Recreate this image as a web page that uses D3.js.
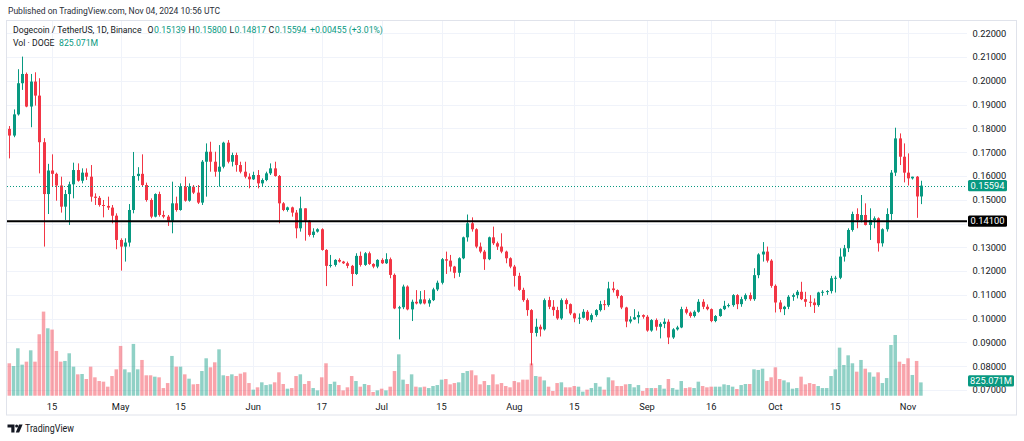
<!DOCTYPE html>
<html><head><meta charset="utf-8">
<script src="https://cdn.jsdelivr.net/npm/d3@7"></script>
<style>html,body{margin:0;padding:0;background:#fff;overflow:hidden}svg{display:block;font-family:Roboto,"Liberation Sans",sans-serif}</style>
</head><body><svg id="c" width="1024" height="441"></svg>
<script>
const startDate = "2024-04-05", endDate = "2024-11-04";
const opens = [.1798,.1770,.1859,.1990,.2029,.1892,.1997,.1938,.1742,.1524,
.1623,.1609,.1560,.1471,.1524,.1565,.1625,.1580,.1614,.1597,
.1513,.1508,.1478,.1474,.1467,.1433,.1331,.1303,.1320,.1457,
.1600,.1609,.1562,.1499,.1429,.1524,.1436,.1429,.1412,.1485,
.1457,.1555,.1496,.1555,.1530,.1488,.1660,.1702,.1660,.1618,
.1639,.1740,.1660,.1688,.1646,.1618,.1597,.1586,.1604,.1569,
.1583,.1611,.1632,.1600,.1485,.1457,.1468,.1446,.1380,.1464,
.1412,.1352,.1366,.1376,.1289,.1222,.1226,.1247,.1240,.1233,
.1222,.1188,.1264,.1226,.1275,.1230,.1219,.1247,.1233,.1250,
.1184,.1043,.1048,.1135,.1039,.1071,.1064,.1081,.1064,.1078,
.1123,.1151,.1250,.1244,.1219,.1193,.1254,.1342,.1401,.1376,
.1303,.1282,.1250,.1342,.1317,.1303,.1282,.1254,.1219,.1180,
.1121,.1078,.1036,.0940,.0966,.0955,.1078,.1050,.1036,.1001,
.1078,.1061,.1022,.1001,.1004,.1029,.0995,.1015,.1036,.1061,
.1057,.1127,.1120,.1095,.1047,.0988,.0997,.1006,.1015,.1008,
.0950,.0994,.0966,.0978,.0987,.0921,.0955,.0963,.1040,.1025,
.1011,.1029,.1071,.1050,.1040,.0990,.1011,.1040,.1054,.1057,
.1099,.1061,.1082,.1099,.1082,.1183,.1270,.1282,.1244,.1138,
.1068,.1040,.1050,.1092,.1099,.1113,.1082,.1071,.1068,.1057,
.1110,.1113,.1116,.1170,.1172,.1261,.1296,.1373,.1440,.1415,
.1436,.1394,.1415,.1422,.1317,.1376,.1440,.1614,.1758,.1681,
.1614,.1590,.1597,.15139];
const highs = [.1810,.1880,.2049,.2102,.2035,.2029,.2036,.2011,.1759,.1651,
.1691,.1614,.1597,.1541,.1576,.1656,.1653,.1632,.1632,.1646,
.1527,.1516,.1499,.1513,.1478,.1443,.1338,.1338,.1482,.1701,
.1637,.1691,.1572,.1506,.1527,.1534,.1454,.1436,.1576,.1513,
.1569,.1597,.1569,.1562,.1562,.1667,.1737,.1744,.1702,.1730,
.1744,.1751,.1698,.1698,.1660,.1660,.1611,.1618,.1625,.1590,
.1618,.1653,.1660,.1604,.1490,.1471,.1471,.1457,.1513,.1464,
.1415,.1380,.1380,.1380,.1292,.1268,.1250,.1254,.1243,.1240,
.1226,.1275,.1282,.1280,.1282,.1233,.1250,.1254,.1275,.1257,
.1190,.1054,.1143,.1140,.1080,.1120,.1116,.1120,.1085,.1130,
.1160,.1255,.1282,.1268,.1222,.1258,.1345,.1438,.1426,.1380,
.1320,.1289,.1345,.1387,.1324,.1359,.1286,.1258,.1226,.1193,
.1130,.1085,.1040,.1000,.0975,.1085,.1092,.1078,.1050,.1085,
.1085,.1064,.1025,.1022,.1040,.1036,.1022,.1040,.1075,.1078,
.1155,.1155,.1123,.1099,.1050,.1010,.1040,.1030,.1018,.1015,
.0998,.1001,.0985,.1001,.0997,.0960,.0970,.1050,.1050,.1030,
.1035,.1082,.1082,.1060,.1043,.1015,.1043,.1075,.1064,.1103,
.1103,.1092,.1106,.1110,.1212,.1275,.1322,.1303,.1250,.1144,
.1078,.1054,.1099,.1106,.1120,.1155,.1113,.1099,.1085,.1113,
.1120,.1120,.1180,.1180,.1296,.1310,.1380,.1450,.1464,.1520,
.1485,.1464,.1430,.1426,.1380,.1464,.1625,.1803,.1779,.1737,
.1695,.1597,.1600,.15800];
const lows = [.1674,.1763,.1854,.1962,.1889,.1805,.1896,.1611,.1303,.1440,
.1555,.1496,.1446,.1415,.1394,.1506,.1576,.1569,.1583,.1492,
.1478,.1471,.1426,.1457,.1401,.1292,.1202,.1240,.1303,.1443,
.1580,.1555,.1492,.1422,.1426,.1429,.1422,.1390,.1359,.1450,
.1454,.1492,.1492,.1524,.1482,.1478,.1513,.1618,.1597,.1555,
.1632,.1653,.1640,.1618,.1611,.1590,.1548,.1583,.1548,.1555,
.1578,.1604,.1597,.1401,.1452,.1450,.1429,.1338,.1366,.1328,
.1345,.1341,.1362,.1286,.1137,.1215,.1219,.1236,.1230,.1212,
.1137,.1184,.1219,.1222,.1226,.1212,.1212,.1230,.1230,.1170,
.1040,.0913,.1040,.1035,.0990,.1060,.1060,.1060,.1050,.1074,
.1116,.1144,.1188,.1198,.1170,.1176,.1250,.1324,.1366,.1296,
.1275,.1205,.1246,.1310,.1289,.1275,.1233,.1212,.1135,.1117,
.1071,.1012,.0804,.0925,.0925,.0950,.1040,.1012,.0995,.0995,
.1040,.1015,.0985,.0978,.1001,.0990,.0985,.1008,.1030,.1036,
.1050,.1110,.1085,.1040,.0964,.0980,.0995,.0980,.1000,.0945,
.0945,.0950,.0917,.0960,.0893,.0915,.0950,.0960,.1018,.1004,
.1005,.1025,.1040,.1035,.0985,.0985,.1008,.1036,.1047,.1050,
.1040,.1050,.1075,.1075,.1075,.1170,.1240,.1236,.1130,.1026,
.1027,.1015,.1040,.1075,.1085,.1078,.1050,.1050,.1024,.1050,
.1096,.1100,.1106,.1110,.1166,.1240,.1280,.1366,.1380,.1405,
.1392,.1331,.1380,.1282,.1303,.1366,.1415,.1600,.1646,.1573,
.1560,.1585,.1424,.14817];
const closes = [.1770,.1859,.1990,.2029,.1892,.1997,.1938,.1742,.1524,.1623,
.1609,.1560,.1471,.1524,.1565,.1625,.1580,.1614,.1597,.1513,
.1508,.1478,.1474,.1467,.1433,.1331,.1303,.1320,.1457,.1600,
.1609,.1562,.1499,.1429,.1524,.1436,.1429,.1412,.1485,.1457,
.1555,.1496,.1555,.1530,.1488,.1660,.1702,.1660,.1618,.1639,
.1740,.1660,.1688,.1646,.1618,.1597,.1586,.1604,.1569,.1583,
.1611,.1632,.1600,.1485,.1457,.1468,.1446,.1380,.1464,.1412,
.1352,.1366,.1376,.1289,.1222,.1226,.1247,.1240,.1233,.1222,
.1188,.1264,.1226,.1275,.1230,.1219,.1247,.1233,.1250,.1184,
.1043,.1048,.1135,.1039,.1071,.1064,.1081,.1064,.1078,.1123,
.1151,.1250,.1244,.1219,.1193,.1254,.1342,.1401,.1376,.1303,
.1282,.1250,.1342,.1317,.1303,.1282,.1254,.1219,.1180,.1121,
.1078,.1036,.0940,.0966,.0955,.1078,.1050,.1036,.1001,.1078,
.1061,.1022,.1001,.1004,.1029,.0995,.1015,.1036,.1061,.1057,
.1127,.1120,.1095,.1047,.0988,.0997,.1006,.1015,.1008,.0950,
.0994,.0966,.0978,.0987,.0921,.0955,.0963,.1040,.1025,.1011,
.1029,.1071,.1050,.1040,.0990,.1011,.1040,.1054,.1057,.1099,
.1061,.1082,.1099,.1082,.1183,.1270,.1282,.1244,.1138,.1068,
.1040,.1050,.1092,.1099,.1113,.1082,.1071,.1068,.1057,.1110,
.1113,.1116,.1170,.1172,.1261,.1296,.1373,.1440,.1415,.1436,
.1394,.1415,.1422,.1317,.1376,.1440,.1614,.1758,.1681,.1614,
.1590,.1597,.15139,.15594];
const volumes = [2010,1840,2940,1925,2110,2815,2110,3810,5215,4180,
4100,2775,2110,2155,2630,1800,1325,1345,1035,1800,
1140,910,870,560,1220,1635,3085,1635,1450,3210,
1635,2215,1265,1265,1180,1140,475,785,2465,1800,
1800,1325,1055,705,725,1530,2320,1760,2070,2875,
1265,1220,1325,1220,1365,1450,785,375,520,830,
660,705,830,1450,725,435,475,1220,1325,725,
910,475,330,1140,2010,725,870,660,330,520,
1220,910,560,725,660,230,330,435,330,560,
1530,2565,995,725,1325,560,520,560,475,600,
660,995,1035,705,785,830,1410,1530,1575,1265,
705,910,660,1325,705,785,600,520,910,830,
995,995,2000,1220,1180,950,560,290,785,830,
520,520,600,560,250,375,475,785,560,375,
1140,950,600,600,705,725,520,660,290,475,
475,475,660,435,1035,475,375,910,475,520,
475,870,600,520,560,560,560,705,660,560,
415,660,725,725,1635,1595,1675,910,1140,1760,
1035,950,830,435,475,1180,705,785,725,600,
475,475,1220,1635,2980,1905,2505,2010,1490,2215,
1675,1450,1180,1450,785,1095,3145,3765,2110,1965,
2320,1285,2155,825.071];
const priceTicks = [0.07,0.08,0.09,0.10,0.11,0.12,0.13,0.14,0.15,0.16,0.17,0.18,0.19,0.20,0.21,0.22];
const timeTickDates = ["2024-04-15","2024-05-01","2024-05-15","2024-06-01","2024-06-17","2024-07-01","2024-07-15","2024-08-01","2024-08-15","2024-09-01","2024-09-16","2024-10-01","2024-10-15","2024-11-01"];
const timeTickLabels = ["15","May","15","Jun","17","Jul","15","Aug","15","Sep","16","Oct","15","Nov"];
const markLevel = 0.141;
const symbolTitle = "Dogecoin / TetherUS, 1D, Binance";
const volTitle = "Vol · DOGE";
const published = "Published on TradingView.com, Nov 04, 2024 10:56 UTC";

const UP = "#089981", DOWN = "#F23645", TXT = "#131722", GRID = "#f0f3fa";
const svg = d3.select("#c");
const dates = d3.utcDay.range(new Date(startDate + "T00:00:00Z"), d3.utcDay.offset(new Date(endDate + "T00:00:00Z"), 1));
const data = dates.map((d, i) => ({d, o: opens[i], h: highs[i], l: lows[i], c: closes[i], v: volumes[i]}));
const last = data[data.length - 1], prev = data[data.length - 2];

const PL = 7, PR = 967, PT = 21, PB = 396;
const x = d3.scaleUtc().domain([dates[0], dates[dates.length - 1]]).range([9.3, 920.9]);
const y = d3.scaleLinear().domain([0.07, 0.22]).range([390, 33.3]);
const yv = d3.scaleLinear().domain([0, 5500]).range([395.7, 307]);

// frame
svg.append("rect").attr("x", 6.5).attr("y", 20.5).attr("width", 1010).attr("height", 394.5)
  .attr("fill", "#fff").attr("stroke", "#e0e3eb");
svg.append("defs").append("clipPath").attr("id", "plot").append("rect")
  .attr("x", PL).attr("y", PT).attr("width", PR - PL).attr("height", PB - PT);

// grid
const g = svg.append("g");
g.selectAll("line.h").data(priceTicks).join("line")
  .attr("x1", PL).attr("x2", PR).attr("y1", d => Math.round(y(d)) + 0.5).attr("y2", d => Math.round(y(d)) + 0.5)
  .attr("stroke", GRID);
const tDates = timeTickDates.map(s => new Date(s + "T00:00:00Z"));
g.selectAll("line.v").data(tDates).join("line")
  .attr("x1", d => Math.round(x(d)) + 0.5).attr("x2", d => Math.round(x(d)) + 0.5).attr("y1", PT).attr("y2", PB)
  .attr("stroke", GRID);

const plot = svg.append("g").attr("clip-path", "url(#plot)");
// volume
plot.append("g").selectAll("rect").data(data).join("rect")
  .attr("x", d => x(d.d) - 1.75).attr("width", 3.5)
  .attr("y", d => yv(d.v)).attr("height", d => yv(0) - yv(d.v))
  .attr("fill", d => d.c >= d.o ? UP : DOWN).attr("fill-opacity", 0.45);

// candles
const cg = plot.append("g");
cg.selectAll("line").data(data).join("line")
  .attr("x1", d => Math.round(x(d.d)) + 0.5).attr("x2", d => Math.round(x(d.d)) + 0.5)
  .attr("y1", d => y(d.h)).attr("y2", d => y(d.l))
  .attr("stroke", d => d.c >= d.o ? UP : DOWN).attr("stroke-width", 1);
cg.selectAll("rect").data(data).join("rect")
  .attr("x", d => Math.round(x(d.d)) - 1).attr("width", 3)
  .attr("y", d => y(Math.max(d.o, d.c)))
  .attr("height", d => Math.max(1, Math.abs(y(d.o) - y(d.c))))
  .attr("fill", d => d.c >= d.o ? UP : DOWN);

// last price dotted line
plot.append("line").attr("x1", PL).attr("x2", PR)
  .attr("y1", Math.round(y(last.c)) + 0.5).attr("y2", Math.round(y(last.c)) + 0.5)
  .attr("stroke", UP).attr("stroke-dasharray", "1,2");
// horizontal level
svg.append("line").attr("x1", PL).attr("x2", PR).attr("y1", y(markLevel)).attr("y2", y(markLevel))
  .attr("stroke", "#000").attr("stroke-width", 2);

// price axis labels (labels hidden behind the level badge are not drawn, as in the reference)
const fmt = d3.format(".5f");
const badgeYs = [y(markLevel), y(last.c)];
svg.append("g").selectAll("text")
  .data(priceTicks.filter(p => badgeYs.every(b => Math.abs(y(p) - b) > 9)))
  .join("text")
  .attr("x", 972.5).attr("y", d => y(d) + 3.3).attr("font-size", 9.3).attr("fill", TXT)
  .text(d => fmt(d));

function badge(yc, w, fill, label) {
  svg.append("rect").attr("x", 968).attr("y", yc - 5.6).attr("width", w).attr("height", 11.2).attr("rx", 1.5).attr("fill", fill);
  svg.append("text").attr("x", 968 + w / 2).attr("y", yc + 3.3).attr("text-anchor", "middle")
    .attr("font-size", 9.3).attr("fill", "#fff").text(label);
}
badge(y(markLevel), 39, "#000", fmt(markLevel));
badge(y(last.c), 39, UP, fmt(last.c));
badge(yv(last.v) - 1.5, 46, UP, d3.format(".3f")(last.v) + "M");

// time axis labels
svg.append("g").selectAll("text").data(tDates).join("text")
  .attr("x", d => x(d)).attr("y", 409.5).attr("text-anchor", "middle").attr("font-size", 9.3).attr("fill", TXT)
  .text((d, i) => timeTickLabels[i]);

// header texts
svg.append("text").attr("x", 8).attr("y", 14).attr("font-size", 9.5).attr("fill", "#2a2e39")
  .attr("textLength", 212).attr("lengthAdjust", "spacingAndGlyphs").text(published);

// legend: one text element per line, segments as positioned tspans
const chg = last.c - prev.c, pct = chg / prev.c * 100;
const sign = chg >= 0 ? "+" : "";
const line1 = [
  [13, symbolTitle, TXT],
  [147.5, "O", TXT], [154, fmt(last.o), UP],
  [188.5, "H", TXT], [195, fmt(last.h), UP],
  [229.5, "L", TXT], [234.5, fmt(last.l), UP],
  [268.5, "C", TXT], [274.8, fmt(last.c), UP],
  [310, sign + fmt(chg) + " (" + sign + pct.toFixed(2) + "%)", UP]
];
const l1 = svg.append("text").attr("y", 33.3).attr("font-size", 8.7);
line1.forEach(([xp, s, col]) => l1.append("tspan").attr("x", xp).attr("fill", col).text(s));
const l2 = svg.append("text").attr("y", 45.8).attr("font-size", 8.7);
[[13, volTitle, TXT], [59, d3.format(".3f")(last.v) + "M", UP]]
  .forEach(([xp, s, col]) => l2.append("tspan").attr("x", xp).attr("fill", col).text(s));

// TradingView logo
const lg = svg.append("g").attr("fill", TXT);
lg.append("path").attr("d", "M7.5 424.5h7v8h-3.2v-5h-3.8z");
lg.append("circle").attr("cx", 16.6).attr("cy", 426).attr("r", 1.5);
lg.append("path").attr("d", "M19 424.5h3.6l-3.4 8h-3.4z");
svg.append("text").attr("x", 25).attr("y", 431.5).attr("font-size", 10.5).attr("fill", TXT)
  .attr("textLength", 49).attr("lengthAdjust", "spacingAndGlyphs").text("TradingView");
</script></body></html>
